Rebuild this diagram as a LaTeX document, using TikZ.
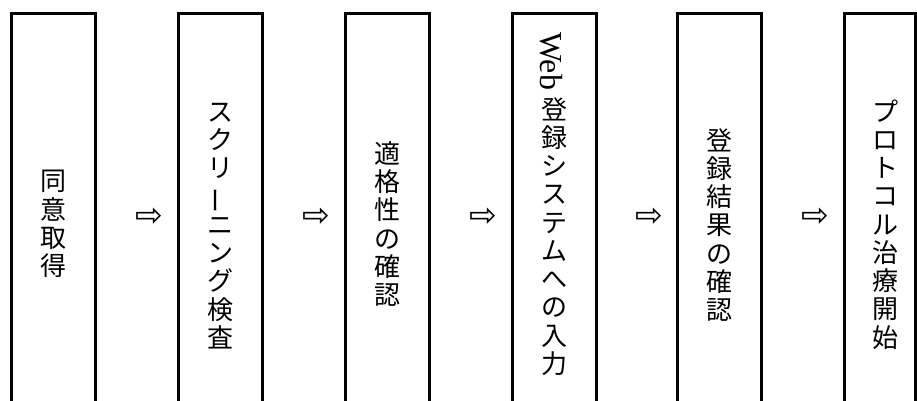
\documentclass[tikz,border=0pt]{standalone}
\usepackage{fontspec}
\usepackage{graphicx}
\newfontfamily\jpfont{Noto Sans CJK JP}
\newfontfamily\arrfont{DejaVu Sans}
\newfontfamily\latfont{Liberation Serif}
\newcommand\vbarchar{\smash{\rotatebox[origin=c]{90}{ー}}}
\begin{document}
\begin{tikzpicture}[x=1pt,y=-1pt,
  box/.style={draw, line width=3pt, minimum width=84pt, minimum height=430pt, anchor=north, inner sep=0pt, outer sep=0pt},
  vtext/.style={font=\jpfont\fontsize{26pt}{28.25pt}\selectfont, align=center, inner sep=0pt},
  arr/.style={font=\arrfont\fontsize{33pt}{33pt}\selectfont, inner sep=0pt},
  lat/.style={font=\latfont\fontsize{32pt}{32pt}\selectfont, inner sep=0pt}]
\useasboundingbox (0,0) rectangle (917,401);
\clip (0,0) rectangle (917,401);
% boxes
\node[box] (b1) at (53,14) {};
\node[box] (b2) at (220,14) {};
\node[box] (b3) at (387,14) {};
\node[box] (b4) at (554,14) {};
\node[box] (b5) at (719.5,14) {};
\node[box, minimum width=71.5pt] (b6) at (879.75,14) {};
% texts
\node[vtext] (t1) at (53,224) {同\\意\\取\\得};
\node[vtext] (t2) at (220,226) {ス\\ク\\リ\\\vbarchar\\ニ\\ン\\グ\\検\\査};
\node[vtext] (t3) at (387,224) {適\\格\\性\\の\\確\\認};
\node[lat, rotate=-90, anchor=base west] (web) at (540,32) {Web};
\node[vtext] (t4) at (554,236.5) {登\\録\\シ\\ス\\テ\\ム\\へ\\の\\入\\力};
\node[vtext] (t5) at (719.5,225) {登\\録\\結\\果\\の\\確\\認};
\node[vtext] (t6) at (885.5,224.5) {プ\\ロ\\ト\\コ\\ル\\治\\療\\開\\始};
% arrows
\node[arr] (a1) at (149.5,217) {⇨};
\node[arr] (a2) at (316.5,217) {⇨};
\node[arr] (a3) at (483.5,217) {⇨};
\node[arr] (a4) at (649.5,217) {⇨};
\node[arr] (a5) at (815.5,217) {⇨};
\end{tikzpicture}
\end{document}
